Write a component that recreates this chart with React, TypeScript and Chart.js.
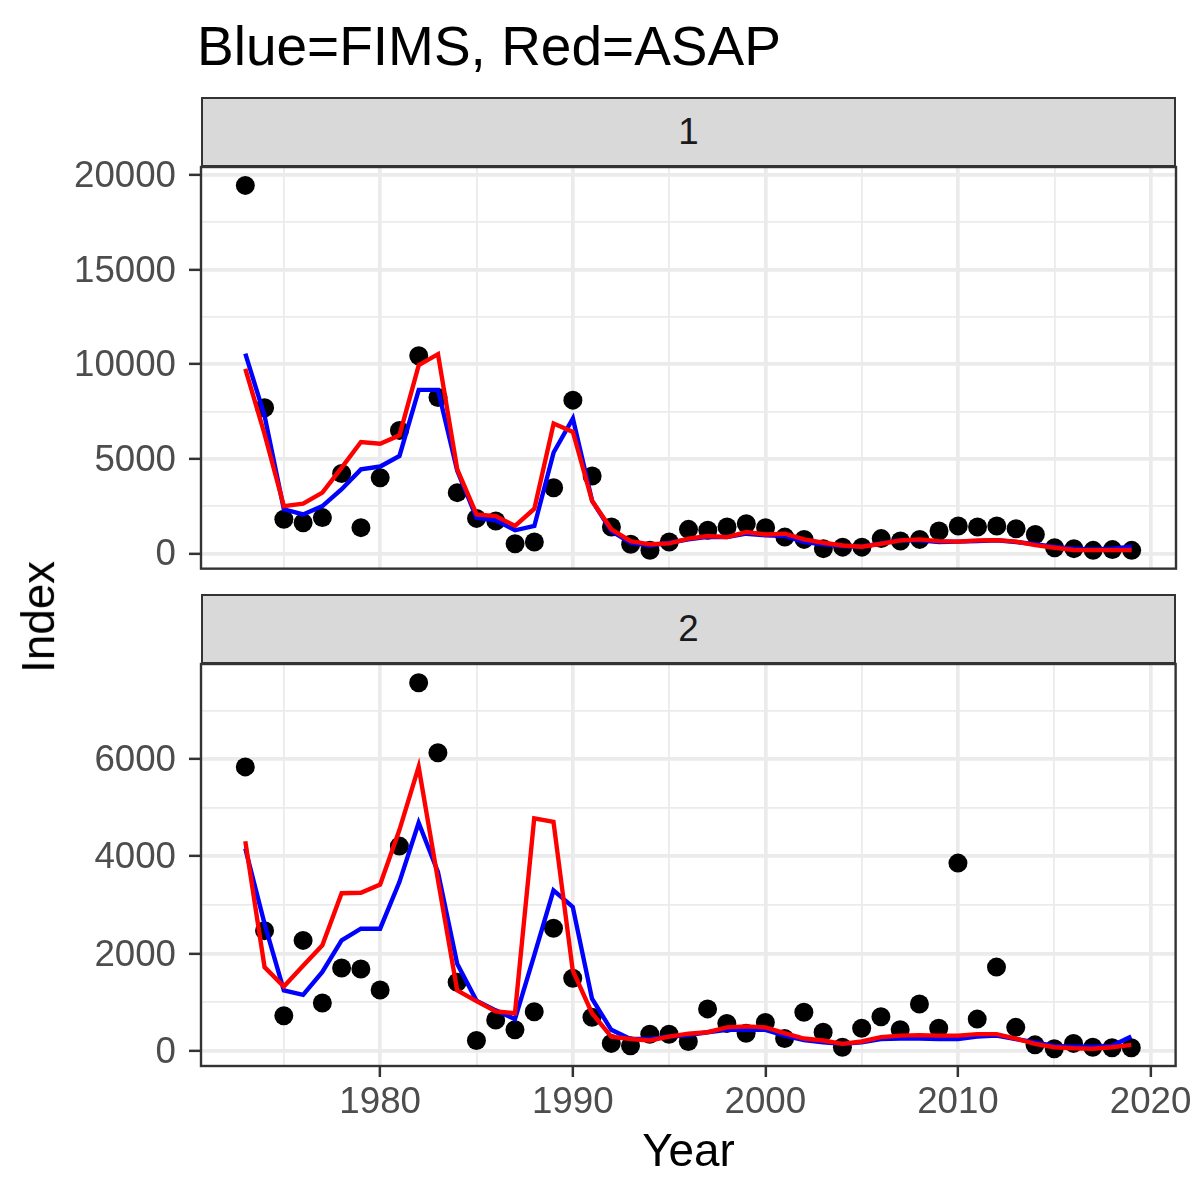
import React, { useEffect, useRef } from "react";
import { Chart, registerables } from "chart.js";

Chart.register(...registerables);

const FONT = '"Liberation Sans", Arial, Helvetica, sans-serif';

const years = [
  1973, 1974, 1975, 1976, 1977, 1978, 1979, 1980, 1981, 1982,
  1983, 1984, 1985, 1986, 1987, 1988, 1989, 1990, 1991, 1992,
  1993, 1994, 1995, 1996, 1997, 1998, 1999, 2000, 2001, 2002,
  2003, 2004, 2005, 2006, 2007, 2008, 2009, 2010, 2011, 2012,
  2013, 2014, 2015, 2016, 2017, 2018, 2019,
];

// Panel 1 (index 1)
const observed1 = [
  19450, 7700, 1800, 1620, 1890, 4220, 1360, 4000, 6500, 10450,
  8240, 3210, 1850, 1710, 510, 600, 3470, 8100, 4090, 1390,
  480, 170, 600, 1270, 1220, 1390, 1570, 1360, 860, 740,
  250, 330, 330, 780, 650, 740, 1180, 1450, 1390, 1450,
  1300, 1000, 300, 250, 160, 200, 160,
];
const fims1 = [
  10560, 7270, 2330, 2060, 2500, 3390, 4440, 4590, 5150, 8640,
  8640, 4360, 1890, 1750, 1220, 1450, 5330, 7130, 2770, 1180,
  560, 420, 560, 740, 880, 860, 1040, 950, 920, 600,
  480, 390, 350, 530, 690, 690, 600, 620, 650, 690,
  600, 480, 340, 250, 210, 250, 350,
];
const asap1 = [
  9750, 6300, 2500, 2630, 3210, 4530, 5890, 5800, 6240, 9950,
  10530, 4440, 2060, 1970, 1450, 2360, 6860, 6420, 2770, 1270,
  650, 480, 530, 780, 920, 860, 1130, 1000, 1040, 740,
  560, 420, 350, 510, 690, 740, 650, 620, 690, 700,
  620, 440, 300, 180, 170, 170, 180,
];

// Panel 2 (index 2)
const observed2 = [
  5840, 2470, 720, 2270, 980, 1700, 1680, 1250, 4210, 7570,
  6130, 1410, 210, 630, 430, 800, 2520, 1490, 690, 150,
  100, 340, 340, 190, 860, 560, 360, 580, 250, 790,
  380, 70, 460, 700, 430, 960, 460, 3860, 650, 1720,
  480, 120, 40, 150, 70, 60, 60,
];
const fims2 = [
  4160, 2610, 1240, 1150, 1620, 2270, 2510, 2510, 3470, 4690,
  3680, 1790, 1030, 830, 650, 1960, 3300, 2960, 1070, 430,
  240, 240, 290, 320, 380, 430, 430, 430, 310, 220,
  170, 140, 170, 240, 250, 250, 240, 240, 290, 310,
  240, 170, 100, 80, 80, 100, 290,
];
const asap2 = [
  4310, 1720, 1320, 1750, 2170, 3240, 3250, 3420, 4540, 5840,
  3520, 1240, 1020, 810, 770, 4780, 4710, 1650, 770, 290,
  240, 210, 290, 350, 380, 480, 500, 480, 360, 250,
  210, 140, 190, 280, 310, 320, 310, 310, 340, 340,
  250, 140, 70, 50, 40, 70, 120,
];

const xTicks = [1975, 1980, 1985, 1990, 1995, 2000, 2005, 2010, 2015, 2020];
const xMajor = [1980, 1990, 2000, 2010, 2020];
const yTicks1 = [0, 2500, 5000, 7500, 10000, 12500, 15000, 17500, 20000];
const yMajor1 = [0, 5000, 10000, 15000, 20000];
const yTicks2 = [0, 1000, 2000, 3000, 4000, 5000, 6000, 7000];
const yMajor2 = [0, 2000, 4000, 6000];

const titleText = "Blue=FIMS, Red=ASAP";
const xTitle = "Year";
const yTitle = "Index";
const stripLabels = ["1", "2"];

const GRID = "#EBEBEB";
const DARK = "#333333";

const borderPlugin = {
  id: "panelBorder",
  afterDraw(chart: any) {
    const a = chart.chartArea;
    const ctx = chart.ctx;
    ctx.save();
    ctx.strokeStyle = DARK;
    ctx.lineWidth = 2.4;
    ctx.strokeRect(a.left, a.top, a.right - a.left, a.bottom - a.top);
    ctx.restore();
  },
};

type PanelProps = {
  top: number;
  height: number;
  padTop: number;
  padBottom: number;
  xHeight: number;
  showX: boolean;
  yMin: number;
  yMax: number;
  yTicks: number[];
  yMajor: number[];
  obs: number[];
  fims: number[];
  asap: number[];
};

function Panel(p: PanelProps) {
  const ref = useRef<HTMLCanvasElement | null>(null);
  useEffect(() => {
    if (!ref.current) return;
    const pts = (arr: number[]) => years.map((y, i) => ({ x: y, y: arr[i] }));
    const isMajorX = (v: number) => xMajor.includes(v);
    const isMajorY = (v: number) => p.yMajor.includes(v);
    const chart = new Chart(ref.current, {
      type: "scatter",
      data: {
        datasets: [
          {
            type: "line",
            data: pts(p.asap),
            borderColor: "#FF0000",
            backgroundColor: "#FF0000",
            borderWidth: 4.4,
            pointRadius: 0,
            showLine: true,
            fill: false,
            tension: 0,
            order: 0,
          } as any,
          {
            type: "line",
            data: pts(p.fims),
            borderColor: "#0000FF",
            backgroundColor: "#0000FF",
            borderWidth: 4.4,
            pointRadius: 0,
            showLine: true,
            fill: false,
            tension: 0,
            order: 1,
          } as any,
          {
            type: "scatter",
            data: pts(p.obs),
            backgroundColor: "#000000",
            borderColor: "#000000",
            borderWidth: 0,
            pointRadius: 9.5,
            order: 2,
          } as any,
        ],
      },
      options: {
        animation: false,
        responsive: false,
        maintainAspectRatio: false,
        events: [],
        layout: { padding: { left: 0, right: 24, top: p.padTop, bottom: p.padBottom } },
        plugins: {
          legend: { display: false },
          tooltip: { enabled: false },
          title: { display: false },
        },
        scales: {
          x: {
            type: "linear",
            min: 1970.7,
            max: 2021.3,
            afterBuildTicks: (s: any) => {
              s.ticks = xTicks.map((v) => ({ value: v }));
            },
            afterFit: (s: any) => {
              s.height = p.xHeight;
            },
            border: { display: false },
            grid: {
              color: GRID,
              lineWidth: (c: any) => (isMajorX(c.tick?.value) ? 3.7 : 1.8),
              drawTicks: true,
              tickLength: 11,
              tickWidth: 2.5,
              tickColor: (c: any) =>
                p.showX && isMajorX(c.tick?.value) ? DARK : "rgba(0,0,0,0)",
            },
            ticks: {
              display: p.showX,
              autoSkip: false,
              maxRotation: 0,
              minRotation: 0,
              padding: 8,
              color: "#4D4D4D",
              font: { family: FONT, size: 36.7, lineHeight: 1 },
              callback: (v: any) => (isMajorX(Number(v)) ? String(v) : ""),
            },
          },
          y: {
            type: "linear",
            min: p.yMin,
            max: p.yMax,
            afterBuildTicks: (s: any) => {
              s.ticks = p.yTicks.map((v) => ({ value: v }));
            },
            afterFit: (s: any) => {
              s.width = 201;
            },
            border: { display: false },
            grid: {
              color: GRID,
              lineWidth: (c: any) => (isMajorY(c.tick?.value) ? 3.7 : 1.8),
              drawTicks: true,
              tickLength: 12,
              tickWidth: 2.5,
              tickColor: (c: any) => (isMajorY(c.tick?.value) ? DARK : "rgba(0,0,0,0)"),
            },
            ticks: {
              autoSkip: false,
              padding: 13,
              labelOffset: 2,
              color: "#4D4D4D",
              font: { family: FONT, size: 36.7, lineHeight: 1 },
              callback: (v: any) => (isMajorY(Number(v)) ? String(v) : ""),
            },
          },
        },
      },
      plugins: [borderPlugin],
    } as any);
    return () => chart.destroy();
  }, []);
  return (
    <canvas
      ref={ref}
      width={1200}
      height={p.height}
      style={{ position: "absolute", left: 0, top: p.top, width: 1200, height: p.height }}
    />
  );
}

function Strip({ top, label }: { top: number; label: string }) {
  return (
    <div
      style={{
        position: "absolute",
        left: 201,
        top,
        width: 975,
        height: 70,
        boxSizing: "border-box",
        background: "#D9D9D9",
        border: `2.4px solid ${DARK}`,
        display: "flex",
        alignItems: "center",
        justifyContent: "center",
        fontFamily: FONT,
        fontSize: 36.7,
        color: "#1A1A1A",
        lineHeight: 1,
      }}
    >
      {label}
    </div>
  );
}

export default function App() {
  return (
    <div
      style={{
        position: "absolute",
        left: 0,
        top: 0,
        width: 1200,
        height: 1200,
        background: "#FFFFFF",
        overflow: "hidden",
        fontFamily: FONT,
      }}
    >
      <div
        style={{
          position: "absolute",
          left: 197,
          top: 19,
          fontSize: 55,
          lineHeight: "55px",
          color: "#000000",
          whiteSpace: "nowrap",
        }}
      >
        {titleText}
      </div>
      <Panel
        top={0}
        height={600}
        padTop={167}
        padBottom={31}
        xHeight={0}
        showX={false}
        yMin={-807}
        yMax={20422}
        yTicks={yTicks1}
        yMajor={yMajor1}
        obs={observed1}
        fims={fims1}
        asap={asap1}
      />
      <Panel
        top={580}
        height={620}
        padTop={84}
        padBottom={54}
        xHeight={80}
        showX={true}
        yMin={-315}
        yMax={7957}
        yTicks={yTicks2}
        yMajor={yMajor2}
        obs={observed2}
        fims={fims2}
        asap={asap2}
      />
      <Strip top={97} label={stripLabels[0]} />
      <Strip top={594} label={stripLabels[1]} />
      <div
        style={{
          position: "absolute",
          left: 688.5 - 150,
          top: 1128,
          width: 300,
          textAlign: "center",
          fontSize: 45.8,
          lineHeight: "45.8px",
          color: "#000000",
        }}
      >
        {xTitle}
      </div>
      <div
        style={{
          position: "absolute",
          left: 39 - 150,
          top: 617 - 22.9,
          width: 300,
          height: 45.8,
          textAlign: "center",
          fontSize: 45.8,
          lineHeight: "45.8px",
          color: "#000000",
          transform: "rotate(-90deg)",
          transformOrigin: "center center",
        }}
      >
        {yTitle}
      </div>
    </div>
  );
}
